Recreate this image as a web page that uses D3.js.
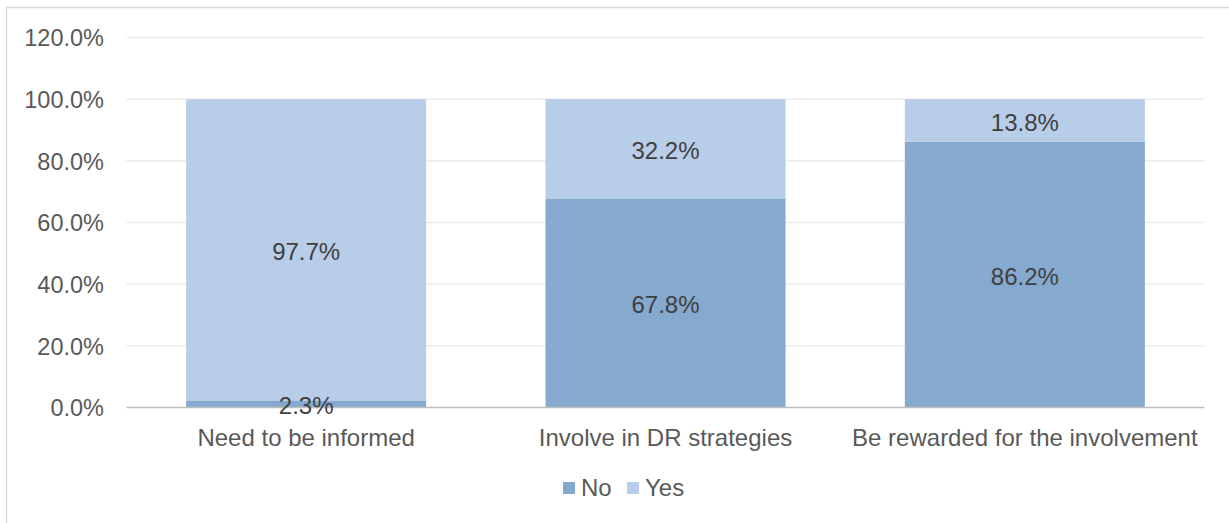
<!DOCTYPE html>
<html>
<head>
<meta charset="utf-8">
<script src="https://cdn.jsdelivr.net/npm/d3@7/dist/d3.min.js"></script>
<style>
  html, body { margin: 0; padding: 0; background: #fff; overflow: hidden; }
  svg { display: block; font-family: "Liberation Sans", Arial, sans-serif; }
</style>
</head>
<body>
<svg id="chart" width="1229" height="523"></svg>
<script>
// Survey responses per statement (percent)
const categories = ["Need to be informed", "Involve in DR strategies", "Be rewarded for the involvement"];
const seriesNames = ["No", "Yes"];
const noValues = [2.3, 67.8, 86.2];
const yesValues = [97.7, 32.2, 13.8];
const yTicks = [0, 20, 40, 60, 80, 100, 120];
const colors = { No: "#85a9cf", Yes: "#b7cde8" };

const svg = d3.select("#chart");
const W = 1229, H = 523;
const margin = { left: 126.5, right: 1204.5, top: 37.5, bottom: 407.5 };
const fontSize = "24px";

// Chart frame (only top and left edges fall inside the window)
svg.append("rect")
  .attr("x", 6.5).attr("y", 7.5)
  .attr("width", W + 20).attr("height", H + 20)
  .attr("fill", "none").attr("stroke", "#d9d9d9").attr("stroke-width", 1.5);

const x = d3.scaleBand().domain(categories)
  .range([margin.left, margin.right])
  .paddingInner(0.332).paddingOuter(0.166);
const y = d3.scaleLinear().domain([0, 120]).range([margin.bottom, margin.top]);

// Gridlines
svg.append("g").selectAll("line").data(yTicks.filter(t => t > 0)).join("line")
  .attr("x1", margin.left).attr("x2", margin.right)
  .attr("y1", d => y(d)).attr("y2", d => y(d))
  .attr("stroke", "#ececec").attr("stroke-width", 1.5);

// Y axis labels
const yAxis = d3.axisLeft(y).tickValues(yTicks).tickSize(0).tickPadding(0)
  .tickFormat(d => d.toFixed(1) + "%");
const gy = svg.append("g").attr("transform", `translate(104,0)`).call(yAxis);
gy.select(".domain").remove();
gy.selectAll("text").attr("fill", "#595959").attr("font-size", "23.5px")
  .attr("font-family", "Liberation Sans, Arial, sans-serif").attr("dy", "0.35em");

// Stacked data
const rows = categories.map((c, i) => ({ cat: c, No: noValues[i], Yes: yesValues[i] }));
const stack = d3.stack().keys(seriesNames)(rows);

const layers = svg.append("g").selectAll("g").data(stack).join("g")
  .attr("fill", d => colors[d.key]);
layers.selectAll("rect").data(d => d).join("rect")
  .attr("x", d => x(d.data.cat))
  .attr("width", x.bandwidth())
  .attr("y", d => y(d[1]))
  .attr("height", d => y(d[0]) - y(d[1]));

// Category axis
const xAxis = d3.axisBottom(x).tickSize(0).tickPadding(0);
const gx = svg.append("g").attr("transform", `translate(0,${margin.bottom})`).call(xAxis);
gx.select(".domain").attr("d", `M${margin.left},0H${margin.right}`)
  .attr("stroke", "#bfbfbf").attr("stroke-width", 1.5);
gx.selectAll("text").attr("fill", "#595959").attr("font-size", fontSize)
  .attr("font-family", "Liberation Sans, Arial, sans-serif").attr("dy", "0").attr("y", 38);

// Value labels centred in each segment
const labels = svg.append("g");
stack.forEach(layer => {
  labels.selectAll(null).data(layer).join("text")
    .attr("x", d => x(d.data.cat) + x.bandwidth() / 2)
    .attr("y", d => (y(d[0]) + y(d[1])) / 2 + 2)
    .attr("dy", "0.35em")
    .attr("text-anchor", "middle")
    .attr("fill", "#404040")
    .attr("font-size", fontSize)
    .text(d => (d[1] - d[0]).toFixed(1) + "%");
});

// Legend
const legend = svg.append("g");
const legendItems = [{ name: "No", x: 563 }, { name: "Yes", x: 627 }];
legendItems.forEach(it => {
  legend.append("rect").attr("x", it.x).attr("y", 482).attr("width", 12).attr("height", 12)
    .attr("fill", colors[it.name]);
  legend.append("text").attr("x", it.x + 18).attr("y", 488).attr("dy", "0.35em")
    .attr("fill", "#595959").attr("font-size", fontSize).text(it.name);
});
</script>
</body>
</html>
